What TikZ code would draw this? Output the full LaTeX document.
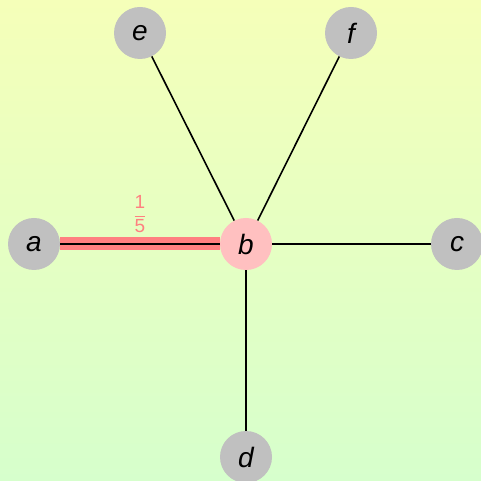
\documentclass[tikz,border=0pt]{standalone}
\usepackage{fontspec}
\setmainfont{Liberation Sans}
\definecolor{bgtop}{RGB}{245,255,185}
\definecolor{bgbot}{RGB}{214,255,204}
\definecolor{nodegray}{RGB}{192,192,192}
\definecolor{nodepink}{RGB}{255,192,192}
\definecolor{edgered}{RGB}{255,128,128}
\begin{document}
\begin{tikzpicture}[x=1pt,y=1pt,
  vtx/.style={circle,fill=nodegray,minimum size=52pt,inner sep=0pt,font=\fontsize{28}{30}\selectfont\itshape},
  hot/.style={vtx,fill=nodepink},
  edge/.style={black,line width=1.6pt},
  redge/.style={edgered,line width=13pt}]
\shade[top color=bgtop,bottom color=bgbot] (0,0) rectangle (481,481);
\useasboundingbox (0,0) rectangle (481,481);
\node[vtx] (a) at (34,237) {a};
\node[hot] (b) at (246,237) {b};
\node[vtx] (c) at (457,237) {c};
\node[vtx] (d) at (246,24) {d};
\node[vtx] (e) at (140,448) {e};
\node[vtx] (f) at (351,448) {f};
\draw[redge] (a) -- (b);
\draw[edge] (a) -- (b);
\draw[edge] (b) -- (c);
\draw[edge] (b) -- (d);
\draw[edge] (b) -- (e);
\draw[edge] (b) -- (f);
\node[text=edgered,font=\fontsize{19}{21}\selectfont] (lab) at (140,267) {$\displaystyle\frac{\mbox{1}}{\mbox{5}}$};
\end{tikzpicture}
\end{document}
